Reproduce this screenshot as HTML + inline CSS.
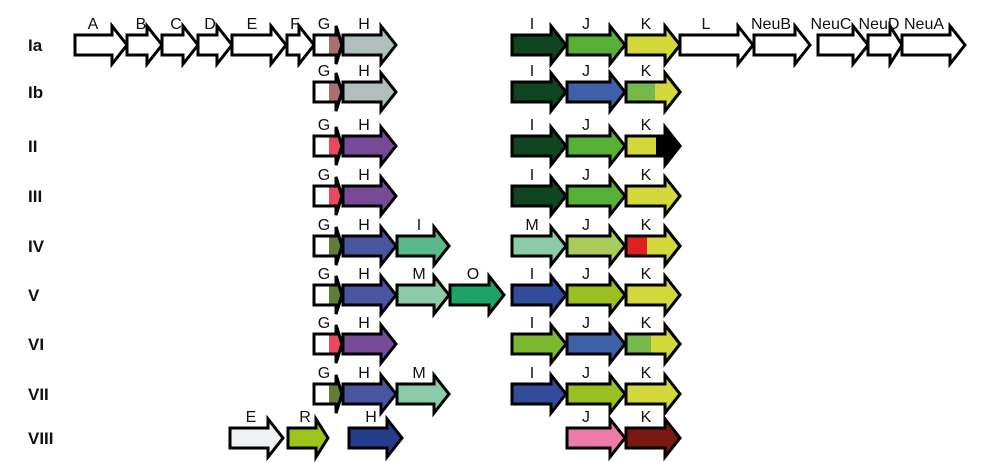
<!DOCTYPE html>
<html><head><meta charset="utf-8"><style>
html,body{margin:0;padding:0;background:#fff}
svg{display:block}
text{font-family:"Liberation Sans",sans-serif}
.l{font-size:16px;text-anchor:middle;fill:#111}
.r{font-size:17px;font-weight:bold;fill:#111}
path{stroke:#000;stroke-width:3;stroke-linejoin:miter}
.o{fill:none}
</style></head><body>
<svg width="986" height="462" viewBox="0 0 986 462" xmlns="http://www.w3.org/2000/svg">
<!-- Ia -->
<g transform="translate(0,45)">
<text class="r" x="28" y="6">Ia</text>
<path fill="#fff" d="M75 -10h37v-9l15 19-15 19v-9h-37z"/><text class="l" x="93" y="-16">A</text>
<path fill="#fff" d="M127 -10h20v-9l15 19-15 19v-9h-20z"/><text class="l" x="141" y="-16">B</text>
<path fill="#fff" d="M162 -10h21v-9l15 19-15 19v-9h-21z"/><text class="l" x="176" y="-16">C</text>
<path fill="#fff" d="M198 -10h19v-9l15 19-15 19v-9h-19z"/><text class="l" x="210" y="-16">D</text>
<path fill="#fff" d="M232 -10h39v-9l15 19-15 19v-9h-39z"/><text class="l" x="252" y="-16">E</text>
<path fill="#fff" d="M287 -10h12v-9l15 19-15 19v-9h-12z"/><text class="l" x="295" y="-16">F</text>
<path fill="#a87070" d="M314 -10h22v-9l6 19-6 19v-9h-22z"/><rect x="315" y="-9" width="14" height="18" fill="#fff"/><path class="o" d="M314 -10h22v-9l6 19-6 19v-9h-22z"/><text class="l" x="324" y="-16">G</text>
<path fill="#b0bfbd" d="M343 -10h38v-9l15 19-15 19v-9h-38z"/><text class="l" x="364" y="-16">H</text>
<path fill="#0e4520" d="M512 -10h39v-9l15 19-15 19v-9h-39z"/><text class="l" x="532" y="-16">I</text>
<path fill="#56b035" d="M567 -10h43v-9l15 19-15 19v-9h-43z"/><text class="l" x="586" y="-16">J</text>
<path fill="#d3d93a" d="M626 -10h39v-9l15 19-15 19v-9h-39z"/><text class="l" x="646" y="-16">K</text>
<path fill="#fff" d="M680 -10h58v-9l15 19-15 19v-9h-58z"/><text class="l" x="706" y="-16">L</text>
<path fill="#fff" d="M754 -10h41v-9l15 19-15 19v-9h-41z"/><text class="l" x="771" y="-16">NeuB</text>
<path fill="#fff" d="M818 -10h35v-9l15 19-15 19v-9h-35z"/><text class="l" x="831" y="-16">NeuC</text>
<path fill="#fff" d="M868 -10h22v-9l12 19-12 19v-9h-22z"/><text class="l" x="879" y="-16">NeuD</text>
<path fill="#fff" d="M902 -10h48v-9l15 19-15 19v-9h-48z"/><text class="l" x="924" y="-16">NeuA</text>
</g>
<!-- Ib -->
<g transform="translate(0,92)">
<text class="r" x="28" y="6">Ib</text>
<path fill="#a87070" d="M314 -10h22v-9l6 19-6 19v-9h-22z"/><rect x="315" y="-9" width="14" height="18" fill="#fff"/><path class="o" d="M314 -10h22v-9l6 19-6 19v-9h-22z"/><text class="l" x="324" y="-16">G</text>
<path fill="#b0bfbd" d="M343 -10h38v-9l15 19-15 19v-9h-38z"/><text class="l" x="364" y="-16">H</text>
<path fill="#0e4520" d="M512 -10h39v-9l15 19-15 19v-9h-39z"/><text class="l" x="532" y="-16">I</text>
<path fill="#3f5fa8" d="M567 -10h43v-9l15 19-15 19v-9h-43z"/><text class="l" x="586" y="-16">J</text>
<path fill="#d3d93a" d="M626 -10h39v-9l15 19-15 19v-9h-39z"/><rect x="627" y="-9" width="28" height="18" fill="#76b84a"/><path class="o" d="M626 -10h39v-9l15 19-15 19v-9h-39z"/><text class="l" x="646" y="-16">K</text>
</g>
<!-- II -->
<g transform="translate(0,146)">
<text class="r" x="28" y="6">II</text>
<path fill="#e84860" d="M314 -10h22v-9l6 19-6 19v-9h-22z"/><rect x="315" y="-9" width="14" height="18" fill="#fff"/><path class="o" d="M314 -10h22v-9l6 19-6 19v-9h-22z"/><text class="l" x="324" y="-16">G</text>
<path fill="#774a98" d="M343 -10h38v-9l15 19-15 19v-9h-38z"/><text class="l" x="364" y="-16">H</text>
<path fill="#0e4520" d="M512 -10h39v-9l15 19-15 19v-9h-39z"/><text class="l" x="532" y="-16">I</text>
<path fill="#56b035" d="M567 -10h43v-9l15 19-15 19v-9h-43z"/><text class="l" x="586" y="-16">J</text>
<path fill="#000" d="M626 -10h39v-9l15 19-15 19v-9h-39z"/><rect x="627" y="-9" width="29" height="18" fill="#d3d93a"/><path class="o" d="M626 -10h39v-9l15 19-15 19v-9h-39z"/><text class="l" x="646" y="-16">K</text>
</g>
<!-- III -->
<g transform="translate(0,196)">
<text class="r" x="28" y="6">III</text>
<path fill="#e84860" d="M314 -10h22v-9l6 19-6 19v-9h-22z"/><rect x="315" y="-9" width="14" height="18" fill="#fff"/><path class="o" d="M314 -10h22v-9l6 19-6 19v-9h-22z"/><text class="l" x="324" y="-16">G</text>
<path fill="#774a98" d="M343 -10h38v-9l15 19-15 19v-9h-38z"/><text class="l" x="364" y="-16">H</text>
<path fill="#0e4520" d="M512 -10h39v-9l15 19-15 19v-9h-39z"/><text class="l" x="532" y="-16">I</text>
<path fill="#56b035" d="M567 -10h43v-9l15 19-15 19v-9h-43z"/><text class="l" x="586" y="-16">J</text>
<path fill="#d3d93a" d="M626 -10h39v-9l15 19-15 19v-9h-39z"/><text class="l" x="646" y="-16">K</text>
</g>
<!-- IV -->
<g transform="translate(0,246)">
<text class="r" x="28" y="6">IV</text>
<path fill="#5e7e3a" d="M314 -10h22v-9l6 19-6 19v-9h-22z"/><rect x="315" y="-9" width="14" height="18" fill="#fff"/><path class="o" d="M314 -10h22v-9l6 19-6 19v-9h-22z"/><text class="l" x="324" y="-16">G</text>
<path fill="#4a55a0" d="M343 -10h38v-9l15 19-15 19v-9h-38z"/><text class="l" x="364" y="-16">H</text>
<path fill="#5ab98a" d="M397 -10h37v-9l15 19-15 19v-9h-37z"/><text class="l" x="419" y="-16">I</text>
<path fill="#8ccba8" d="M512 -10h39v-9l15 19-15 19v-9h-39z"/><text class="l" x="532" y="-16">M</text>
<path fill="#a8cb5a" d="M567 -10h43v-9l15 19-15 19v-9h-43z"/><text class="l" x="586" y="-16">J</text>
<path fill="#d3d93a" d="M626 -10h39v-9l15 19-15 19v-9h-39z"/><rect x="627" y="-9" width="20" height="18" fill="#e02020"/><path class="o" d="M626 -10h39v-9l15 19-15 19v-9h-39z"/><text class="l" x="646" y="-16">K</text>
</g>
<!-- V -->
<g transform="translate(0,295)">
<text class="r" x="28" y="6">V</text>
<path fill="#5e7e3a" d="M314 -10h22v-9l6 19-6 19v-9h-22z"/><rect x="315" y="-9" width="14" height="18" fill="#fff"/><path class="o" d="M314 -10h22v-9l6 19-6 19v-9h-22z"/><text class="l" x="324" y="-16">G</text>
<path fill="#4a55a0" d="M343 -10h38v-9l15 19-15 19v-9h-38z"/><text class="l" x="364" y="-16">H</text>
<path fill="#8ccba8" d="M397 -10h37v-9l15 19-15 19v-9h-37z"/><text class="l" x="419" y="-16">M</text>
<path fill="#1ca466" d="M450 -10h39v-9l15 19-15 19v-9h-39z"/><text class="l" x="473" y="-16">O</text>
<path fill="#304c9a" d="M512 -10h39v-9l15 19-15 19v-9h-39z"/><text class="l" x="532" y="-16">I</text>
<path fill="#98c020" d="M567 -10h43v-9l15 19-15 19v-9h-43z"/><text class="l" x="586" y="-16">J</text>
<path fill="#d3d93a" d="M626 -10h39v-9l15 19-15 19v-9h-39z"/><text class="l" x="646" y="-16">K</text>
</g>
<!-- VI -->
<g transform="translate(0,344)">
<text class="r" x="28" y="6">VI</text>
<path fill="#e84860" d="M314 -10h22v-9l6 19-6 19v-9h-22z"/><rect x="315" y="-9" width="14" height="18" fill="#fff"/><path class="o" d="M314 -10h22v-9l6 19-6 19v-9h-22z"/><text class="l" x="324" y="-16">G</text>
<path fill="#774a98" d="M343 -10h38v-9l15 19-15 19v-9h-38z"/><text class="l" x="364" y="-16">H</text>
<path fill="#7ab830" d="M512 -10h39v-9l15 19-15 19v-9h-39z"/><text class="l" x="532" y="-16">I</text>
<path fill="#3f5fa8" d="M567 -10h43v-9l15 19-15 19v-9h-43z"/><text class="l" x="586" y="-16">J</text>
<path fill="#d3d93a" d="M626 -10h39v-9l15 19-15 19v-9h-39z"/><rect x="627" y="-9" width="24" height="18" fill="#76b84a"/><path class="o" d="M626 -10h39v-9l15 19-15 19v-9h-39z"/><text class="l" x="646" y="-16">K</text>
</g>
<!-- VII -->
<g transform="translate(0,394)">
<text class="r" x="28" y="6">VII</text>
<path fill="#5e7e3a" d="M314 -10h22v-9l6 19-6 19v-9h-22z"/><rect x="315" y="-9" width="14" height="18" fill="#fff"/><path class="o" d="M314 -10h22v-9l6 19-6 19v-9h-22z"/><text class="l" x="324" y="-16">G</text>
<path fill="#4a55a0" d="M343 -10h38v-9l15 19-15 19v-9h-38z"/><text class="l" x="364" y="-16">H</text>
<path fill="#8ccba8" d="M397 -10h37v-9l15 19-15 19v-9h-37z"/><text class="l" x="419" y="-16">M</text>
<path fill="#304c9a" d="M512 -10h39v-9l15 19-15 19v-9h-39z"/><text class="l" x="532" y="-16">I</text>
<path fill="#98c020" d="M567 -10h43v-9l15 19-15 19v-9h-43z"/><text class="l" x="586" y="-16">J</text>
<path fill="#d3d93a" d="M626 -10h39v-9l15 19-15 19v-9h-39z"/><text class="l" x="646" y="-16">K</text>
</g>
<!-- VIII -->
<g transform="translate(0,438)">
<text class="r" x="28" y="6">VIII</text>
<path fill="#eef1f1" d="M230 -10h38v-9l15 19-15 19v-9h-38z"/><text class="l" x="251" y="-16">E</text>
<path fill="#9ec31c" d="M288 -10h28v-9l12 19-12 19v-9h-28z"/><text class="l" x="305" y="-16">R</text>
<path fill="#263b8e" d="M349 -10h38v-9l15 19-15 19v-9h-38z"/><text class="l" x="371" y="-16">H</text>
<path fill="#ee7aaa" d="M567 -10h43v-9l15 19-15 19v-9h-43z"/><text class="l" x="586" y="-16">J</text>
<path fill="#7a1812" d="M626 -10h39v-9l15 19-15 19v-9h-39z"/><text class="l" x="646" y="-16">K</text>
</g>
</svg>
</body></html>
